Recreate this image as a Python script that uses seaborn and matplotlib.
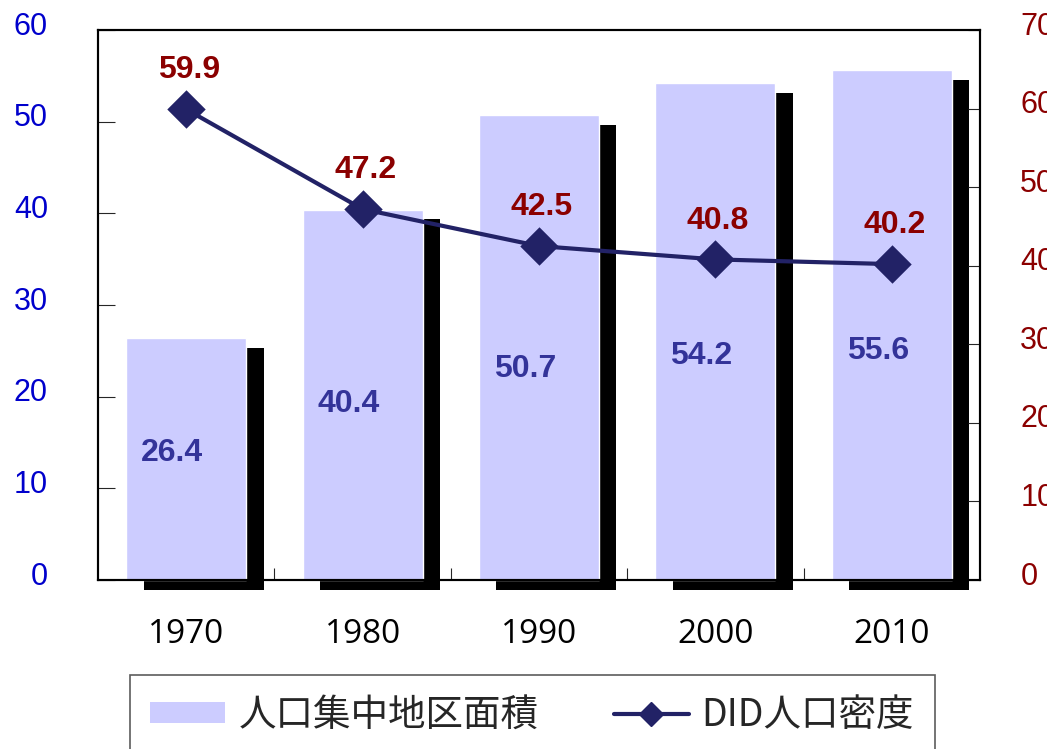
import matplotlib
matplotlib.use("Agg")
import matplotlib.pyplot as plt
import matplotlib.patheffects as pe
import matplotlib.transforms as mtrans
from matplotlib.patches import Patch
from matplotlib.lines import Line2D
from matplotlib.ticker import FixedLocator
import pandas as pd
import seaborn as sns

years = ["1970", "1980", "1990", "2000", "2010"]
area = [26.4, 40.4, 50.7, 54.2, 55.6]          # 人口集中地区面積
density = [59.9, 47.2, 42.5, 40.8, 40.2]       # DID人口密度

df = pd.DataFrame({"year": years, "area": area, "density": density})

sns.set_style("white")
plt.rcParams["font.family"] = ["Liberation Sans", "Noto Sans CJK JP", "DejaVu Sans"]

bar_color = "#ccccff"
line_color = "#222266"
left_color = "#0000cc"
right_color = "#8b0000"

fig = plt.figure(figsize=(10.47, 7.49), dpi=100)
ax = fig.add_axes([0.0936, 0.2256, 0.8424, 0.7344])

sns.barplot(data=df, x="year", y="area", order=years, color=bar_color,
            width=0.68, saturation=1, ax=ax, zorder=2)
for p in ax.patches:
    p.set_clip_on(False)
    p.set_path_effects([pe.SimplePatchShadow(offset=(12.5, -7), shadow_rgbFace="black", alpha=1.0),
                        pe.Normal()])

ax.set_ylim(0, 60)
ax.set_yticks(range(0, 61, 10))
ax.set_xlim(-0.5, 4.5)

# bar value labels (placed in the lower part of each bar, like the original)
for i, v in enumerate(area):
    ax.text(i - 0.08, v * 0.38 + 3.8, f"{v:.1f}", ha="center", va="center",
            fontsize=23, fontweight="bold", color="#333399", zorder=5)

ax2 = ax.twinx()
sns.pointplot(data=df, x="year", y="density", order=years, color=line_color,
              markers="D", markersize=17, linewidth=3, ax=ax2)
ax2.set_ylim(0, 70)
ax2.set_yticks(range(0, 71, 10))
ax2.set_xlim(-0.5, 4.5)

for i, v in enumerate(density):
    ax2.annotate(f"{v:.1f}", (i, v), xytext=(2, 28), textcoords="offset points",
                 ha="center", va="center", fontsize=23, fontweight="bold",
                 color=right_color)

for a in (ax, ax2):
    a.set_xlabel("")
    a.set_ylabel("")
    for s in a.spines.values():
        s.set_color("black")
        s.set_linewidth(1.5)

ax.tick_params(axis="y", direction="in", length=12, width=0.8, pad=36,
               labelsize=22, labelcolor=left_color, left=True)
ax2.tick_params(axis="y", direction="in", length=9, width=0.8, pad=29,
                labelsize=22, labelcolor=right_color, right=True)
ax.tick_params(axis="x", which="major", length=0, pad=27, labelsize=24,
               labelcolor="black")
ax.xaxis.set_minor_locator(FixedLocator([0.5, 1.5, 2.5, 3.5]))
ax.tick_params(axis="x", which="minor", direction="in", length=9, width=0.8,
               bottom=True)
for lbl in ax.get_xticklabels():
    lbl.set_fontfamily(["Open Sans", "DejaVu Sans"])

# y tick labels sit a little above their ticks in the original
shift = mtrans.ScaledTranslation(0, 5 / 72, fig.dpi_scale_trans)
for lbl in ax.get_yticklabels() + ax2.get_yticklabels():
    lbl.set_transform(lbl.get_transform() + shift)

handles = [Patch(facecolor=bar_color, edgecolor="none"),
           Line2D([0], [0], color=line_color, lw=3, marker="D", markersize=12)]
leg = fig.legend(handles, ["人口集中地区面積", "DID人口密度"], loc="upper left",
                 bbox_to_anchor=(0.124, 0.0988), ncol=2, frameon=True, fancybox=False,
                 borderaxespad=0, borderpad=0.55, handlelength=2.0, handleheight=0.5,
                 handletextpad=0.35, columnspacing=2.0,
                 prop={"family": "Noto Sans CJK JP", "size": 27})
leg.get_frame().set_edgecolor("#333333")
leg.get_frame().set_linewidth(1.2)

fig.savefig("out.png", dpi=100)
